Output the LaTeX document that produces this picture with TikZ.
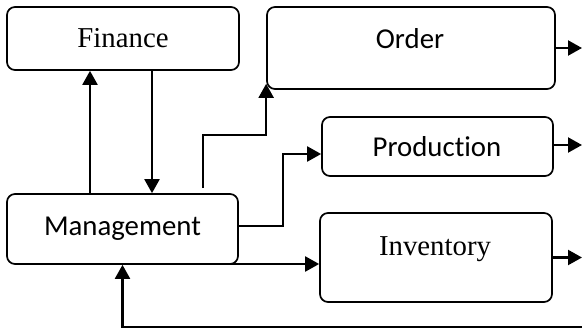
\documentclass[tikz,border=0pt]{standalone}
\usepackage{fontspec}
\usetikzlibrary{arrows.meta}
\newfontfamily\serifface{Liberation Serif}
\newfontfamily\calface[Ligatures=NoCommon]{Carlito}
\begin{document}
\begin{tikzpicture}[x=1pt,y=-1pt,
  box/.style={draw, line width=1.7pt, rounded corners=8pt, inner sep=0pt},
  serlabel/.style={anchor=base, inner sep=0pt, font=\serifface\fontsize{28.8}{34}\selectfont},
  callabel/.style={anchor=base, inner sep=0pt, font=\calface\fontsize{28.8}{34}\selectfont},
  arr/.style={line width=2.2pt, -{Triangle[length=14pt,width=15pt]}}]
\useasboundingbox (0,0) rectangle (582,329);

% boxes
\node[box, minimum width=232pt, minimum height=63pt] (fin)  at (123,38.5)   {};
\node[box, minimum width=288pt, minimum height=82pt] (ord)  at (411,48)     {};
\node[box, minimum width=231pt, minimum height=59pt] (prod) at (437.5,146.5) {};
\node[box, minimum width=232pt, minimum height=89pt] (inv)  at (436,257.5)  {};
\node[box, minimum width=231pt, minimum height=70pt] (mgmt) at (122.5,229)  {};

% labels
\node[serlabel] (tfin)  at (123,48)   {Finance};
\node[callabel] (tord)  at (410,49)   {Order};
\node[callabel] (tprod) at (437,157)  {Production};
\node[callabel] (tmgmt) at (122.5,236) {Management};
\node[serlabel] (tinv)  at (435,255)  {Inventory};

% free ends
\coordinate (rim) at (582,0);
\coordinate (m2o) at (203,188);
\coordinate (m2i) at (223,264);
\coordinate (fb)  at (582,327);

% management <-> finance
\draw[arr] ([xshift=-32.5pt]mgmt.north) -- ([xshift=-32.5pt]mgmt.north |- fin.south);
\draw[arr] ([xshift=29pt]fin.south) -- ([xshift=29pt]fin.south |- mgmt.north);

% management -> order, production, inventory
\draw[arr] (m2o) -- ++(0,-53) -| ([yshift=6pt]ord.south west);
\draw[arr] ([yshift=3pt]mgmt.east) -- ++(44,0) |- ([yshift=-7.5pt]prod.west);
\draw[arr] (m2i) -- (m2i -| inv.west);

% outputs
\draw[arr] (ord.east) -- (ord.east -| rim);
\draw[arr] ([yshift=1.5pt]prod.east) -- ([yshift=1.5pt]prod.east -| rim);
\draw[arr] (inv.east) -- (inv.east -| rim);

% feedback
\draw[arr] (fb) -| (mgmt.south);
\end{tikzpicture}
\end{document}
